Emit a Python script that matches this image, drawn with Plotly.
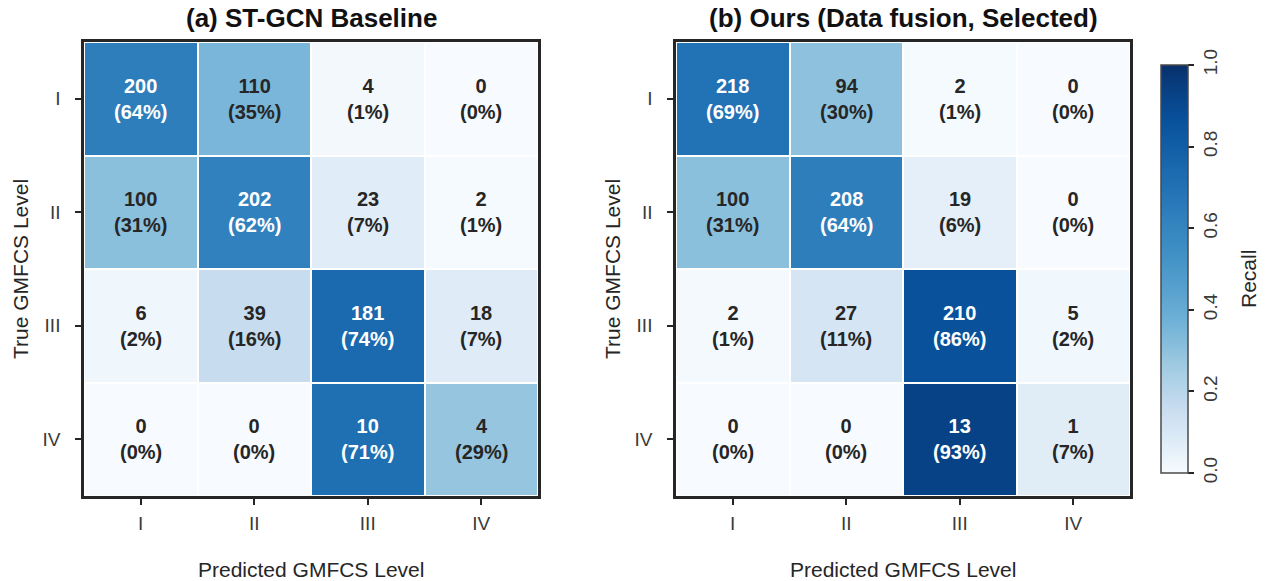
import math
import plotly.graph_objects as go
from plotly.colors import sample_colorscale

# GMFCS levels shown on both axes
levels = ["I", "II", "III", "IV"]

# Confusion matrices (rows: true level, columns: predicted level)
baseline_counts = [
    [200, 110, 4, 0],
    [100, 202, 23, 2],
    [6, 39, 181, 18],
    [0, 0, 10, 4],
]
ours_counts = [
    [218, 94, 2, 0],
    [100, 208, 19, 0],
    [2, 27, 210, 5],
    [0, 0, 13, 1],
]

panel_titles = ["(a) ST-GCN Baseline", "(b) Ours (Data fusion, Selected)"]
x_title = "Predicted GMFCS Level"
y_title = "True GMFCS Level"
cbar_title = "Recall"
cbar_ticks = [0.0, 0.2, 0.4, 0.6, 0.8, 1.0]

FONT = "Liberation Sans, Arial, sans-serif"
DARK = "#262626"
W, H = 1266, 581


def row_recall(counts):
    return [[c / sum(row) for c in row] for row in counts]


# Blues ramp with slightly deeper mid-tones
def _warp(p):
    return min(1.0, p + 0.2 * math.sin(math.pi * p) * (1 - p))


_stops = [i / 40 for i in range(41)]
blues_scale = [[p, c] for p, c in zip(_stops, sample_colorscale("Blues", [_warp(p) for p in _stops]))]

# pixel layout of the two panels
panels_px = [(84, 538), (676, 1130)]
top_px, bottom_px = 42, 496


def px_x(p):
    return p / W


def px_y(p):
    return 1 - p / H


fig = go.Figure()
annotations = []
matrices = [baseline_counts, ours_counts]

for k, counts in enumerate(matrices):
    recall = row_recall(counts)
    suffix = "" if k == 0 else str(k + 1)
    fig.add_trace(
        go.Heatmap(
            z=recall,
            x=list(range(len(levels))),
            y=list(range(len(levels))),
            colorscale=blues_scale,
            zmin=0,
            zmax=1,
            xgap=2,
            ygap=2,
            xaxis="x" + suffix,
            yaxis="y" + suffix,
            showscale=(k == 1),
            hoverinfo="skip",
            colorbar=dict(
                x=px_x(1161),
                xanchor="left",
                y=px_y((65 + 473) / 2),
                yanchor="middle",
                len=(473 - 65) / H,
                lenmode="fraction",
                thickness=27,
                thicknessmode="pixels",
                outlinewidth=1.5,
                outlinecolor="#4a4a4a",
                tickvals=cbar_ticks,
                ticktext=[f"{t:.1f}" for t in cbar_ticks],
                ticks="outside",
                ticklen=6,
                tickwidth=2,
                tickcolor=DARK,
                tickangle=-90,
                tickfont=dict(family=FONT, size=19, color="#3a3a3a"),
                ypad=0,
                xpad=0,
            ),
        )
    )

    for i, row in enumerate(counts):
        for j, c in enumerate(row):
            r = recall[i][j]
            annotations.append(
                dict(
                    x=j,
                    y=i,
                    xref="x" + suffix,
                    yref="y" + suffix,
                    text=f"<b>{c}</b><br><b>({round(r * 100):.0f}%)</b>",
                    showarrow=False,
                    font=dict(family=FONT, size=20, color="white" if r > 0.5 else DARK),
                )
            )

    x0, x1 = panels_px[k]
    cx = (x0 + x1) / 2
    annotations.append(
        dict(
            x=px_x(cx), y=px_y(18), xref="paper", yref="paper",
            text=f"<b>{panel_titles[k]}</b>", showarrow=False,
            xanchor="center", yanchor="middle",
            font=dict(family=FONT, size=26, color="#111111"),
        )
    )
    annotations.append(
        dict(
            x=px_x(cx), y=px_y(569), xref="paper", yref="paper",
            text=x_title, showarrow=False,
            xanchor="center", yanchor="middle",
            font=dict(family=FONT, size=21, color=DARK),
        )
    )
    annotations.append(
        dict(
            x=px_x(x0 - 64), y=px_y((top_px + bottom_px) / 2), xref="paper", yref="paper",
            text=y_title, showarrow=False, textangle=-90,
            xanchor="center", yanchor="middle",
            font=dict(family=FONT, size=21, color=DARK),
        )
    )

annotations.append(
    dict(
        x=px_x(1248), y=px_y(279), xref="paper", yref="paper",
        text=cbar_title, showarrow=False, textangle=-90,
        xanchor="center", yanchor="middle",
        font=dict(family=FONT, size=21, color=DARK),
    )
)

axis_common = dict(
    showline=True,
    linecolor=DARK,
    linewidth=2.5,
    mirror=True,
    ticks="outside",
    ticklen=6,
    tickwidth=2,
    tickcolor=DARK,
    tickfont=dict(family=FONT, size=19, color="#3a3a3a"),
    showgrid=False,
    zeroline=False,
    fixedrange=True,
    tickvals=list(range(len(levels))),
    ticktext=levels,
)

ydom = [px_y(bottom_px), px_y(top_px)]
layout_axes = {}
for k in range(2):
    suffix = "" if k == 0 else str(k + 1)
    x0, x1 = panels_px[k]
    layout_axes["xaxis" + suffix] = dict(
        axis_common, domain=[px_x(x0), px_x(x1)], range=[-0.5, 3.5],
        anchor="y" + suffix, ticklabelstandoff=2,
    )
    layout_axes["yaxis" + suffix] = dict(
        axis_common, domain=ydom, range=[3.5, -0.5],
        anchor="x" + suffix, ticklabelstandoff=11,
    )

fig.update_layout(
    width=W,
    height=H,
    margin=dict(l=0, r=0, t=0, b=0, autoexpand=False),
    paper_bgcolor="white",
    plot_bgcolor="white",
    font=dict(family=FONT, color=DARK),
    annotations=annotations,
    showlegend=False,
    **layout_axes,
)

fig.write_html("out.html", config={"displayModeBar": False})
